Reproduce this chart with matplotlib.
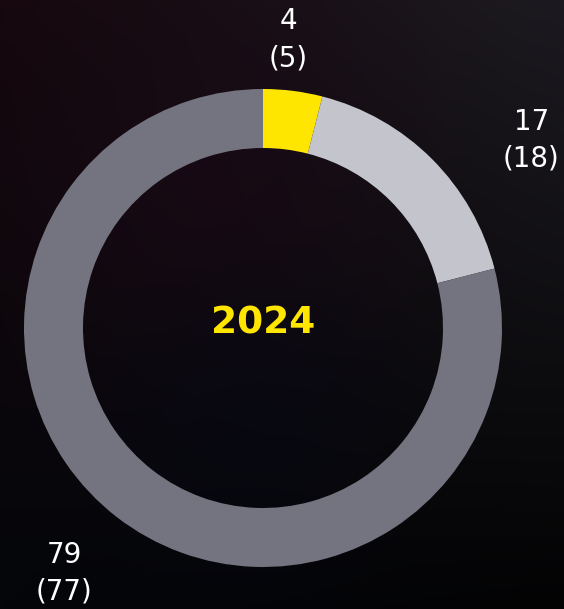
import numpy as np
import matplotlib.pyplot as plt

# data
categories = ["A", "B", "C"]
values_2024 = [4, 17, 79]
values_prev = [5, 18, 77]
year_label = "2024"

colors = ["#FFE600", "#C4C4CD", "#747480"]

W, H = 564, 609
fig = plt.figure(figsize=(W / 100, H / 100), dpi=100)
ax = fig.add_axes([0, 0, 1, 1])
ax.set_xlim(0, W)
ax.set_ylim(0, H)
ax.axis("off")

# dark background gradient (corner colours, y-up)
tl = np.array([22, 8, 14]) / 255
tr = np.array([28, 26, 32]) / 255
bl = np.array([4, 6, 10]) / 255
br = np.array([3, 3, 4]) / 255
mid = np.array([26, 8, 22]) / 255
low = np.array([6, 8, 20]) / 255
yy, xx = np.mgrid[0:1:200j, 0:1:200j]   # yy: 0 bottom -> 1 top
top = tl[None, None, :] * (1 - xx[..., None]) + tr[None, None, :] * xx[..., None]
bot = bl[None, None, :] * (1 - xx[..., None]) + br[None, None, :] * xx[..., None]
img = bot * (1 - yy[..., None]) + top * yy[..., None]
d = np.hypot(xx - 0.38, yy - 0.7)
glow = np.clip(1 - d / 0.45, 0, 1)[..., None]
img = img * (1 - 0.6 * glow) + mid * 0.6 * glow
d2 = np.hypot(xx - 0.45, yy - 0.3)
glow2 = np.clip(1 - d2 / 0.35, 0, 1)[..., None]
img = img * (1 - 0.6 * glow2) + low * 0.6 * glow2
ax.imshow(img, extent=[0, W, 0, H], origin="lower", zorder=0, aspect="auto")

# donut
cx, cy, R, width = 263, 281, 239, 59
ax.pie(values_2024, colors=colors, startangle=90, counterclock=False,
       center=(cx, cy), radius=R, frame=True,
       wedgeprops=dict(width=width, edgecolor="none"))
ax.set_xlim(0, W)
ax.set_ylim(0, H)
ax.set_aspect("equal")
ax.axis("off")

# labels outside the ring: angle (deg clockwise from top), distance in radii
label_angle = [5, 55, 219]
label_dist = [1.21, 1.37, 1.32]
for v, p, a, r in zip(values_2024, values_prev, label_angle, label_dist):
    t = np.deg2rad(a)
    x = cx + r * R * np.sin(t)
    y = cy + r * R * np.cos(t)
    ax.text(x, y, f"{v}\n({p})", ha="center", va="center", color="white",
            fontsize=20, linespacing=1.42, zorder=5)

ax.text(cx, cy + 5, year_label, ha="center", va="center", color="#FFE600",
        fontsize=27, fontweight="bold", zorder=5)

fig.savefig("out.png", dpi=100)
